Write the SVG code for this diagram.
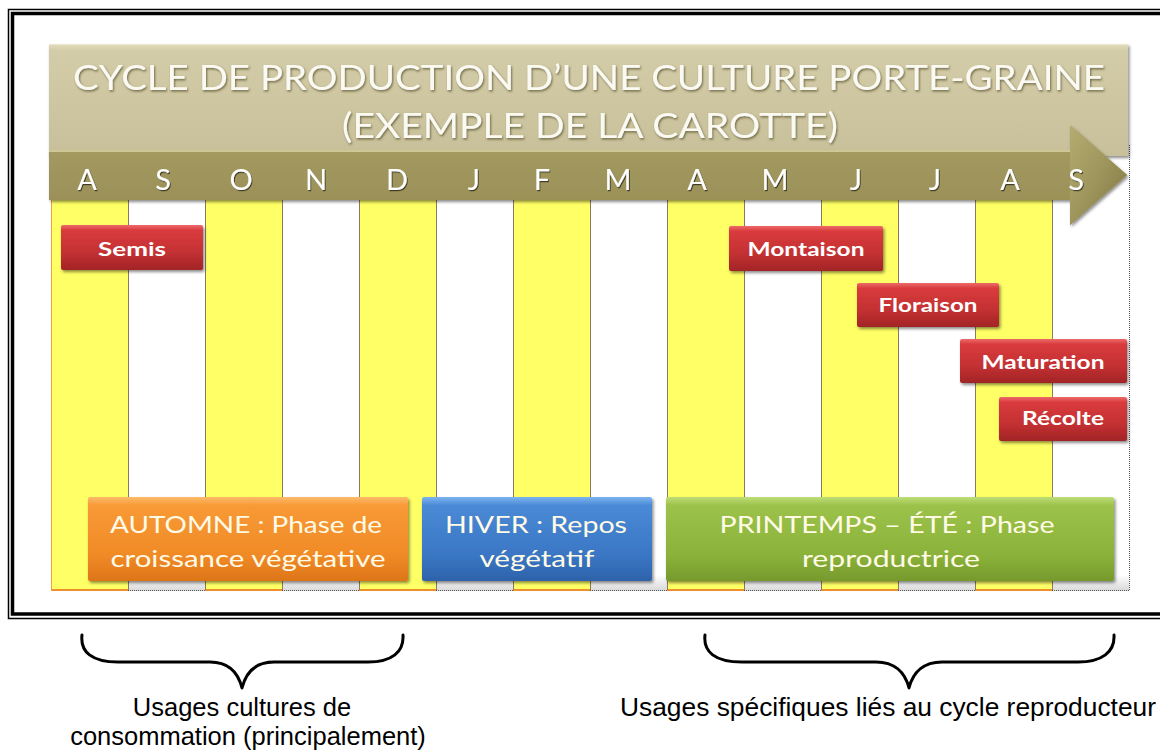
<svg xmlns="http://www.w3.org/2000/svg" width="1160" height="753" viewBox="0 0 1160 753">
<defs>
  <linearGradient id="gBanner" x1="0" y1="0" x2="0" y2="1">
    <stop offset="0" stop-color="#E2DCBE"/>
    <stop offset="0.06" stop-color="#D3CCA8"/>
    <stop offset="1" stop-color="#C8C09A"/>
  </linearGradient>
  <linearGradient id="gArrow" x1="0" y1="0" x2="0" y2="1">
    <stop offset="0" stop-color="#C4BB86"/>
    <stop offset="0.12" stop-color="#A59C62"/>
    <stop offset="0.8" stop-color="#9A9058"/>
    <stop offset="1" stop-color="#857B46"/>
  </linearGradient>
  <linearGradient id="gHead" x1="0" y1="0" x2="1" y2="1">
    <stop offset="0" stop-color="#B5AC72"/>
    <stop offset="0.5" stop-color="#9E955C"/>
    <stop offset="1" stop-color="#7E7442"/>
  </linearGradient>
  <linearGradient id="gRed" x1="0" y1="0" x2="0" y2="1">
    <stop offset="0" stop-color="#EE6A6A"/>
    <stop offset="0.12" stop-color="#D93B3D"/>
    <stop offset="0.6" stop-color="#C43133"/>
    <stop offset="1" stop-color="#A22426"/>
  </linearGradient>
  <linearGradient id="gOrange" x1="0" y1="0" x2="0" y2="1">
    <stop offset="0" stop-color="#FDBB6A"/>
    <stop offset="0.1" stop-color="#F89A36"/>
    <stop offset="0.7" stop-color="#F08A26"/>
    <stop offset="1" stop-color="#DD7518"/>
  </linearGradient>
  <linearGradient id="gBlue" x1="0" y1="0" x2="0" y2="1">
    <stop offset="0" stop-color="#7DB4EE"/>
    <stop offset="0.1" stop-color="#4A8AD6"/>
    <stop offset="0.7" stop-color="#3A76C4"/>
    <stop offset="1" stop-color="#2D62AA"/>
  </linearGradient>
  <linearGradient id="gGreen" x1="0" y1="0" x2="0" y2="1">
    <stop offset="0" stop-color="#BEDD78"/>
    <stop offset="0.1" stop-color="#9CC24A"/>
    <stop offset="0.7" stop-color="#8AB23A"/>
    <stop offset="1" stop-color="#76992C"/>
  </linearGradient>
  <linearGradient id="gWhiteCol" x1="0" y1="0" x2="0" y2="1">
    <stop offset="0" stop-color="#FFFFFF"/>
    <stop offset="0.96" stop-color="#FFFFFF"/>
    <stop offset="1" stop-color="#D8D8D8"/>
  </linearGradient>
  <filter id="shadow" x="-10%" y="-20%" width="125%" height="150%">
    <feDropShadow dx="1.5" dy="2" stdDeviation="1.5" flood-color="#000" flood-opacity="0.45"/>
  </filter>
  <filter id="tshadow" x="-5%" y="-20%" width="110%" height="150%">
    <feDropShadow dx="1" dy="1.5" stdDeviation="0.8" flood-color="#5A5230" flood-opacity="0.8"/>
  </filter>
  <filter id="tshadowDark" x="-10%" y="-20%" width="120%" height="150%">
    <feDropShadow dx="1" dy="1.2" stdDeviation="0.6" flood-color="#000" flood-opacity="0.6"/>
  </filter>
  <style>
    .title { font-family: Lato, "Open Sans", "Liberation Sans", sans-serif; font-size: 35px; fill: #FBFAF2; text-anchor: middle; }
    .month { font-family: Lato, "Open Sans", "Liberation Sans", sans-serif; font-size: 29px; fill: #FFFFFF; text-anchor: middle; }
    .stage { font-family: Lato, "Open Sans", "Liberation Sans", sans-serif; font-weight: bold; font-size: 19px; fill: #FFFFFF; text-anchor: middle; }
    .phase { font-family: Lato, "Open Sans", "Liberation Sans", sans-serif; font-size: 24px; fill: #FFFBE6; text-anchor: middle; }
    .label { font-family: "Liberation Sans", Arial, sans-serif; font-size: 25.5px; fill: #000000; }
    .sep { stroke: #8A7A5A; stroke-width: 1; }
    .brace { fill: none; stroke: #000; stroke-width: 3; stroke-linecap: round; stroke-linejoin: round; }
  </style>
</defs>

<rect x="0" y="0" width="1160" height="753" fill="#FFFFFF"/>

<g id="frame" fill="none" stroke="#000">
  <rect x="8.5" y="9.5" width="1200" height="609" stroke-width="1.5"/>
  <rect x="12.5" y="13.5" width="1200" height="600.5" stroke-width="3.5"/>
</g>

<g id="columns">
  <rect x="51" y="195" width="1078" height="396" fill="url(#gWhiteCol)"/>
  <rect x="51" y="195" width="77" height="396" fill="#FFFF66"/>
  <rect x="205" y="195" width="77" height="396" fill="#FFFF66"/>
  <rect x="359" y="195" width="77" height="396" fill="#FFFF66"/>
  <rect x="513" y="195" width="77" height="396" fill="#FFFF66"/>
  <rect x="667" y="195" width="77" height="396" fill="#FFFF66"/>
  <rect x="821" y="195" width="77" height="396" fill="#FFFF66"/>
  <rect x="975" y="195" width="77" height="396" fill="#FFFF66"/>
  <g stroke="#F0902A" stroke-width="2">
    <line x1="51" y1="590" x2="128" y2="590"/>
    <line x1="205" y1="590" x2="282" y2="590"/>
    <line x1="359" y1="590" x2="436" y2="590"/>
    <line x1="513" y1="590" x2="590" y2="590"/>
    <line x1="667" y1="590" x2="744" y2="590"/>
    <line x1="821" y1="590" x2="898" y2="590"/>
    <line x1="975" y1="590" x2="1052" y2="590"/>
  </g>
  <g stroke="#555" stroke-width="1" stroke-dasharray="1 1">
    <line x1="128" y1="590.5" x2="205" y2="590.5"/>
    <line x1="282" y1="590.5" x2="359" y2="590.5"/>
    <line x1="436" y1="590.5" x2="513" y2="590.5"/>
    <line x1="590" y1="590.5" x2="667" y2="590.5"/>
    <line x1="744" y1="590.5" x2="821" y2="590.5"/>
    <line x1="898" y1="590.5" x2="975" y2="590.5"/>
    <line x1="1052" y1="590.5" x2="1129" y2="590.5"/>
    <line x1="1129.5" y1="145" x2="1129.5" y2="591"/>
  </g>
  <line x1="51.5" y1="195" x2="51.5" y2="591" stroke="#F0A040" stroke-width="1"/>
  <g class="sep">
    <line x1="128.5" y1="195" x2="128.5" y2="590"/>
    <line x1="205.5" y1="195" x2="205.5" y2="590"/>
    <line x1="282.5" y1="195" x2="282.5" y2="590"/>
    <line x1="359.5" y1="195" x2="359.5" y2="590"/>
    <line x1="436.5" y1="195" x2="436.5" y2="590"/>
    <line x1="513.5" y1="195" x2="513.5" y2="590"/>
    <line x1="590.5" y1="195" x2="590.5" y2="590"/>
    <line x1="667.5" y1="195" x2="667.5" y2="590"/>
    <line x1="744.5" y1="195" x2="744.5" y2="590"/>
    <line x1="821.5" y1="195" x2="821.5" y2="590"/>
    <line x1="898.5" y1="195" x2="898.5" y2="590"/>
    <line x1="975.5" y1="195" x2="975.5" y2="590"/>
    <line x1="1052.5" y1="195" x2="1052.5" y2="590"/>
  </g>
</g>

<g id="banner">
  <rect x="49" y="44" width="1079" height="112" fill="url(#gBanner)" filter="url(#shadow)"/>
  <line x1="49" y1="44.5" x2="1128" y2="44.5" stroke="#EEE8CE" stroke-width="1"/>
  <text class="title" x="589" y="90" textLength="1032" lengthAdjust="spacingAndGlyphs" filter="url(#tshadow)">CYCLE DE PRODUCTION D’UNE CULTURE PORTE-GRAINE</text>
  <text class="title" x="590" y="138" textLength="496" lengthAdjust="spacingAndGlyphs" filter="url(#tshadow)">(EXEMPLE DE LA CAROTTE)</text>
</g>

<g id="timeline">
  <path d="M49 150 H1070 V125 L1127 175 L1070 225 V200 H49 Z" fill="url(#gArrow)" filter="url(#shadow)"/>
  <path d="M1070 125 L1127 175 L1070 225 Z" fill="url(#gHead)"/>
  <line x1="49" y1="151" x2="1070" y2="151" stroke="#CFC794" stroke-width="2"/>
  <g filter="url(#tshadowDark)">
    <text class="month" x="87" y="190">A</text>
    <text class="month" x="163" y="190">S</text>
    <text class="month" x="241" y="190">O</text>
    <text class="month" x="316" y="190">N</text>
    <text class="month" x="397" y="190">D</text>
    <text class="month" x="474" y="190">J</text>
    <text class="month" x="542" y="190">F</text>
    <text class="month" x="618" y="190">M</text>
    <text class="month" x="697" y="190">A</text>
    <text class="month" x="775" y="190">M</text>
    <text class="month" x="856" y="190">J</text>
    <text class="month" x="935" y="190">J</text>
    <text class="month" x="1010" y="190">A</text>
    <text class="month" x="1076" y="190">S</text>
  </g>
</g>

<g id="semis">
  <rect x="61" y="225" width="142" height="45" rx="2" fill="url(#gRed)" filter="url(#shadow)"/>
  <text class="stage" x="132" y="256" textLength="68" lengthAdjust="spacingAndGlyphs">Semis</text>
</g>
<g id="montaison">
  <rect x="729" y="226" width="154" height="45" rx="2" fill="url(#gRed)" filter="url(#shadow)"/>
  <text class="stage" x="806" y="256" textLength="117" lengthAdjust="spacingAndGlyphs">Montaison</text>
</g>
<g id="floraison">
  <rect x="857" y="283" width="142" height="44" rx="2" fill="url(#gRed)" filter="url(#shadow)"/>
  <text class="stage" x="928" y="312" textLength="99" lengthAdjust="spacingAndGlyphs">Floraison</text>
</g>
<g id="maturation">
  <rect x="960" y="339" width="167" height="44" rx="2" fill="url(#gRed)" filter="url(#shadow)"/>
  <text class="stage" x="1043" y="369" textLength="123" lengthAdjust="spacingAndGlyphs">Maturation</text>
</g>
<g id="recolte">
  <rect x="999" y="397" width="128" height="44" rx="2" fill="url(#gRed)" filter="url(#shadow)"/>
  <text class="stage" x="1063" y="425" textLength="82" lengthAdjust="spacingAndGlyphs">Récolte</text>
</g>

<g id="automne">
  <rect x="88" y="497" width="320" height="84" rx="2" fill="url(#gOrange)" filter="url(#shadow)"/>
  <text class="phase" x="246" y="533" textLength="272" lengthAdjust="spacingAndGlyphs">AUTOMNE : Phase de</text>
  <text class="phase" x="248" y="567" textLength="275" lengthAdjust="spacingAndGlyphs">croissance végétative</text>
</g>
<g id="hiver">
  <rect x="422" y="497" width="230" height="84" rx="2" fill="url(#gBlue)" filter="url(#shadow)"/>
  <text class="phase" x="536" y="533" textLength="182" lengthAdjust="spacingAndGlyphs">HIVER : Repos</text>
  <text class="phase" x="537" y="567" textLength="115" lengthAdjust="spacingAndGlyphs">végétatif</text>
</g>
<g id="printemps">
  <rect x="666" y="497" width="448" height="84" rx="2" fill="url(#gGreen)" filter="url(#shadow)"/>
  <text class="phase" x="887" y="533" textLength="335" lengthAdjust="spacingAndGlyphs">PRINTEMPS – ÉTÉ : Phase</text>
  <text class="phase" x="891" y="567" textLength="178" lengthAdjust="spacingAndGlyphs">reproductrice</text>
</g>

<g id="braces">
  <path class="brace" d="M82 635 C80 652 92 662 118 662 H210 C228 662 238 672 242 688 C246 672 256 662 274 662 H368 C392 662 404 652 403 635"/>
  <path class="brace" d="M705 635 C703 652 715 662 742 662 H876 C894 662 905 672 909 688 C913 672 924 662 942 662 H1078 C1102 662 1115 652 1114 635"/>
</g>

<g id="labels">
  <text class="label" x="242" y="716" text-anchor="middle">Usages cultures de</text>
  <text class="label" x="248" y="745" text-anchor="middle">consommation (principalement)</text>
  <text class="label" x="620" y="716" textLength="536" lengthAdjust="spacingAndGlyphs">Usages spécifiques liés au cycle reproducteur</text>
</g>
</svg>
